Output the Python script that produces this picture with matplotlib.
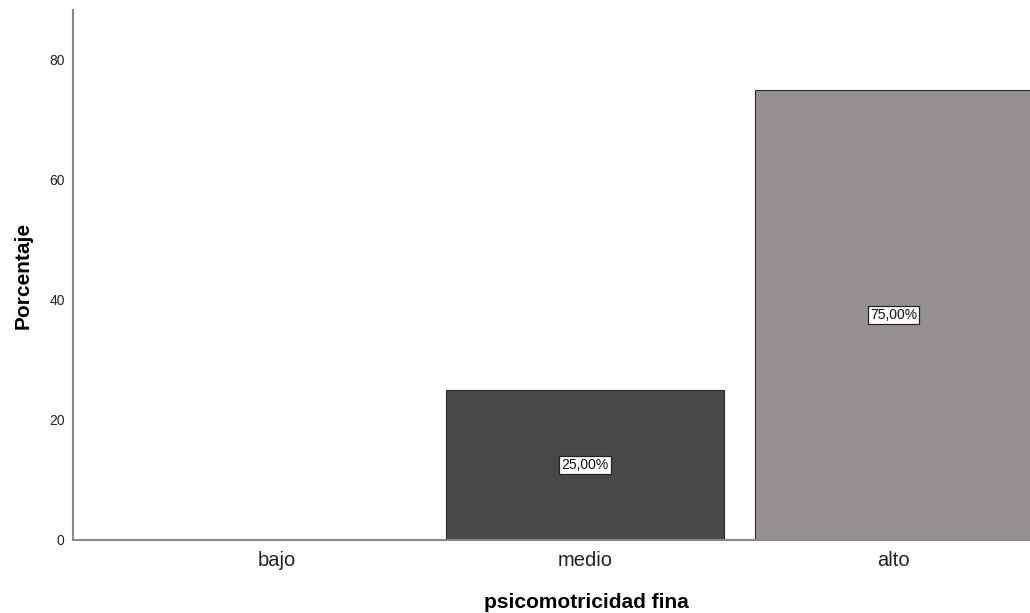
import matplotlib
matplotlib.use("Agg")
import matplotlib.pyplot as plt

categories = ["bajo", "medio", "alto"]
percentages = [0.0, 25.0, 75.0]
bar_colors = ["#ffffff", "#47484a", "#959190"]
yticks = [0, 20, 40, 60, 80]

plt.rcParams['font.family'] = ['Liberation Sans', 'DejaVu Sans']

fig = plt.figure(figsize=(10.30, 6.13), dpi=100)
ax = fig.add_axes([0.0709, 0.1191, 0.9291, 0.8646])

x = list(range(len(categories)))
ax.bar(x, percentages, width=0.9, color=bar_colors,
       edgecolor="#2a2a2a", linewidth=0.8, zorder=2)
for xi, v in zip(x, percentages):
    if v > 0:
        ax.text(xi, v / 2, f"{v:.2f}%".replace(".", ","), ha="center", va="center",
                fontsize=10, color="#111111", zorder=3,
                bbox=dict(boxstyle="square,pad=0.15", facecolor="white",
                          edgecolor="#222222", linewidth=0.9))

ax.set_xlim(-0.66, 2.4425)
ax.set_ylim(0, 88.3)
ax.set_xticks(x)
ax.set_xticklabels(categories, fontsize=14.5, color="#222222")
ax.set_yticks(yticks)
ax.set_yticklabels([str(t) for t in yticks], fontsize=10, color="#222222")
ax.tick_params(axis="y", length=0, pad=6)
ax.tick_params(axis="x", length=0, pad=8)

for s in ["top", "right"]:
    ax.spines[s].set_visible(False)
for s in ["left", "bottom"]:
    ax.spines[s].set_color("#888888")
    ax.spines[s].set_linewidth(1.5)

ax.set_ylabel("Porcentaje", fontsize=15, fontweight="bold")
ax.yaxis.set_label_coords(-0.0418, 0.5)
ax.set_xlabel("psicomotricidad fina", fontsize=15, fontweight="bold")
ax.xaxis.set_label_coords(0.536, -0.1)

fig.savefig("out.png", dpi=100)
